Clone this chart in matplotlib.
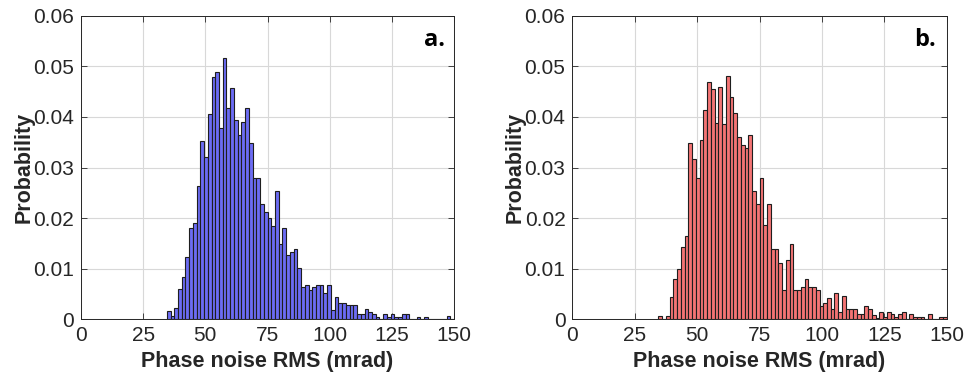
import numpy as np
import matplotlib
matplotlib.use("Agg")
import matplotlib.pyplot as plt

# ---- data ----
bin_start = 34.5
bin_width = 1.5

prob_a = [0.00165, 0.0006, 0.0022, 0.0059, 0.0084, 0.0122, 0.018, 0.019, 0.0264, 0.0353,
          0.0321, 0.0406, 0.048, 0.049, 0.0379, 0.0516, 0.0417, 0.0458, 0.0395, 0.0364,
          0.039, 0.0417, 0.0348, 0.028, 0.028, 0.0227, 0.0211, 0.0201, 0.0185, 0.0253,
          0.0148, 0.018, 0.0127, 0.0132, 0.0138, 0.0101, 0.0064, 0.0068, 0.0057, 0.0063,
          0.0067, 0.0067, 0.0051, 0.0067, 0.0019, 0.0043, 0.0032, 0.0032, 0.0027, 0.0027,
          0.0027, 0.001, 0.001, 0.002, 0.0015, 0.001, 0.0005, 0.0, 0.001, 0.0005,
          0.001, 0.0005, 0.0005, 0.001, 0.001, 0.0, 0.0, 0.0005, 0.0, 0.0005,
          0.0, 0.0, 0.0, 0.0, 0.0, 0.0006, 0.0]

prob_b = [0.0006, 0.0, 0.0006, 0.0043, 0.0079, 0.010, 0.0143, 0.0164, 0.0349, 0.0317,
          0.028, 0.0354, 0.0413, 0.047, 0.0455, 0.0389, 0.046, 0.0386, 0.0481, 0.0439,
          0.0407, 0.036, 0.0344, 0.0339, 0.0365, 0.0254, 0.0228, 0.028, 0.0186, 0.0228,
          0.0138, 0.0138, 0.0112, 0.0058, 0.0117, 0.0148, 0.0057, 0.0057, 0.0063, 0.0079,
          0.0063, 0.0063, 0.0057, 0.0026, 0.0031, 0.0042, 0.002, 0.0051, 0.0015, 0.0046,
          0.002, 0.002, 0.002, 0.001, 0.001, 0.0026, 0.002, 0.0008, 0.0003, 0.0015,
          0.0005, 0.0015, 0.001, 0.0005, 0.001, 0.0015, 0.0, 0.001, 0.0005, 0.0005,
          0.0005, 0.0, 0.001, 0.0, 0.0, 0.0005, 0.0005]

x_ticks = [0, 25, 50, 75, 100, 125, 150]
y_ticks = [0, 0.01, 0.02, 0.03, 0.04, 0.05, 0.06]
y_tick_labels = ["0", "0.01", "0.02", "0.03", "0.04", "0.05", "0.06"]
panel_labels = ["a.", "b."]
x_label = "Phase noise RMS (mrad)"
y_label = "Probability"

plt.rcParams['font.family'] = ['Liberation Sans', 'DejaVu Sans']

fig = plt.figure(figsize=(9.64, 3.79), dpi=100)
axes_rects = [[0.084, 0.158, 0.387, 0.80], [0.5937, 0.158, 0.3885, 0.80]]
colors = ['#6c6cf3', '#f47474']
label_x = [0.976, 0.97]
tick_col = '#262626'

for rect, vals, col, lab, lx in zip(axes_rects, [prob_a, prob_b], colors, panel_labels, label_x):
    ax = fig.add_axes(rect)
    n = len(vals)
    lefts = bin_start + bin_width * np.arange(n)
    ax.bar(lefts, vals, width=bin_width, align='edge', color=col,
           edgecolor='#1e1e1e', linewidth=0.8, zorder=3)
    ax.set_xlim(0, 150)
    ax.set_ylim(0, 0.06)
    ax.set_xticks(x_ticks)
    ax.set_yticks(y_ticks)
    ax.set_yticklabels(y_tick_labels)
    ax.grid(True, color='#d8d8d8', linewidth=0.8, zorder=0)
    ax.set_axisbelow(True)
    ax.tick_params(direction='in', length=4, width=0.6, top=True, right=True,
                   labelsize=15, colors=tick_col, pad=5)
    for s in ax.spines.values():
        s.set_color(tick_col)
        s.set_linewidth(0.7)
        s.set_zorder(4)
    ax.set_xlabel(x_label, fontsize=15.5, fontweight='bold', color=tick_col, labelpad=4)
    ax.set_ylabel(y_label, fontsize=15.5, fontweight='bold', color=tick_col, labelpad=-1)
    ax.text(lx, 0.92, lab, transform=ax.transAxes, ha='right', va='center',
            fontsize=17, fontweight='bold', family=['Open Sans', 'DejaVu Sans'], color='black')

fig.savefig('out.png', dpi=100, facecolor='white')
